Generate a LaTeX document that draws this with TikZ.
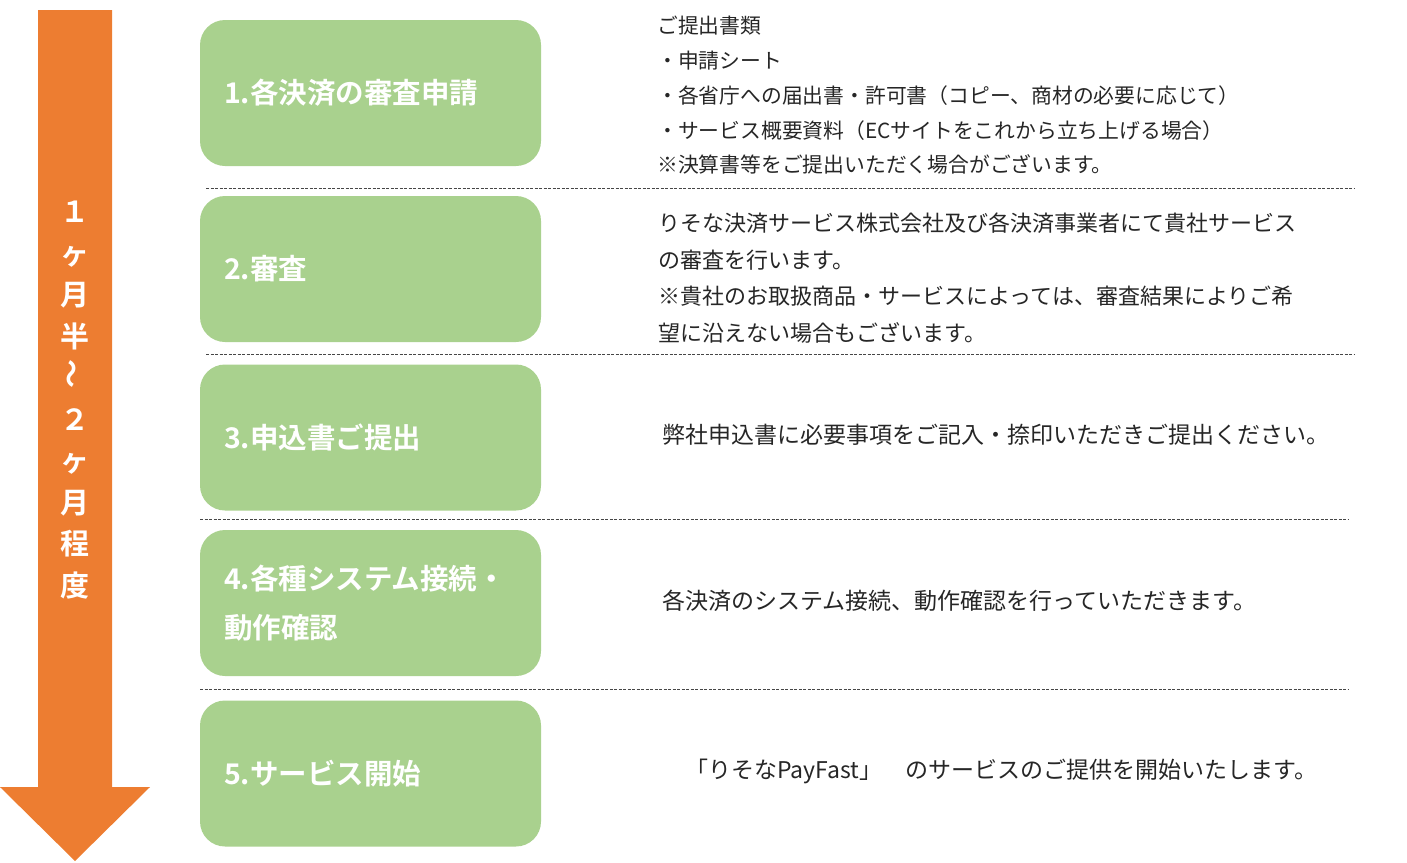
\documentclass[tikz,border=0pt]{standalone}
\usepackage{fontspec}
\usepackage{tikz}
\usetikzlibrary{positioning, calc}
\setmainfont{Noto Sans CJK JP}[BoldFont={Noto Sans CJK JP Bold}]
\definecolor{period}{RGB}{237, 125, 49}
\definecolor{stepfill}{RGB}{169, 209, 142}
\definecolor{note}{RGB}{38, 38, 38}
\definecolor{sep}{RGB}{70, 70, 70}
\tikzstyle{separator} = [sep, line width=1pt, dash pattern=on 3pt off 1.5pt]
\tikzstyle{duration} = [text=white, align=center, inner sep=0, font=\fontsize{29pt}{41.5pt}\selectfont\bfseries]
\newcommand{\tikzstepnode}{\node[
  draw=none, rounded corners=25pt, minimum width=341pt, minimum height=146pt, fill=stepfill,
  text=white, inner xsep=24pt, inner ysep=0, text width=293pt, align=left,
  font=\fontsize{28.5pt}{49pt}\selectfont\bfseries
]}
\newcommand{\tikznotenode}[2]{\node[
  anchor=west, inner sep=0, align=left, text=note, font=\fontsize{#1}{#2}\selectfont
]}

\begin{document}
\begin{tikzpicture}[x=1pt, y=-1pt]
    \useasboundingbox (0,0) rectangle (1407,862);

    % arrow
    \fill[period] (38,10) -- (112,10) -- (112,787) -- (150,787) -- (75,861) -- (0,787) -- (38,787) -- cycle;
    \node[duration] (period) at (75,400) {１\\ヶ\\月\\半\\\rotatebox{90}{～}\\２\\ヶ\\月\\程\\度};

    % steps
    \tikzstepnode at (370.5, 93)    (s1) {1.各決済の審査申請};
    \tikzstepnode at (370.5, 269)   (s2) {2.審査};
    \tikzstepnode at (370.5, 437.5) (s3) {3.申込書ご提出};
    \tikzstepnode at (370.5, 603)   (s4) {4.各種システム接続・\\動作確認};
    \tikzstepnode at (370.5, 773.5) (s5) {5.サービス開始};

    % notes
    \tikznotenode{20.8pt}{34.75pt} at (657, 95.5) (n1) {ご提出書類\\・申請シート\\・各省庁への届出書・許可書（コピー、商材の必要に応じて）\\・サービス概要資料（ECサイトをこれから立ち上げる場合）\\※決算書等をご提出いただく場合がございます。};
    \tikznotenode{22pt}{36.7pt} at (658, 278) (n2) {りそな決済サービス株式会社及び各決済事業者にて貴社サービス\\の審査を行います。\\※貴社のお取扱商品・サービスによっては、審査結果によりご希\\望に沿えない場合もございます。};
    \tikznotenode{23pt}{36.7pt} at (662, 435) (n3) {弊社申込書に必要事項をご記入・捺印いただきご提出ください。};
    \tikznotenode{23pt}{36.7pt} at (662, 601) (n4) {各決済のシステム接続、動作確認を行っていただきます。};
    \tikznotenode{23pt}{36.7pt} at (685, 771) (n5) {「りそなPayFast」　のサービスのご提供を開始いたします。};

    % separators
    \draw[separator] (206,188) -- (1354,188);
    \draw[separator] (206,354) -- (1354,354);
    \draw[separator] (200,519) -- (1349,519);
    \draw[separator] (200,689) -- (1349,689);
\end{tikzpicture}
\end{document}
